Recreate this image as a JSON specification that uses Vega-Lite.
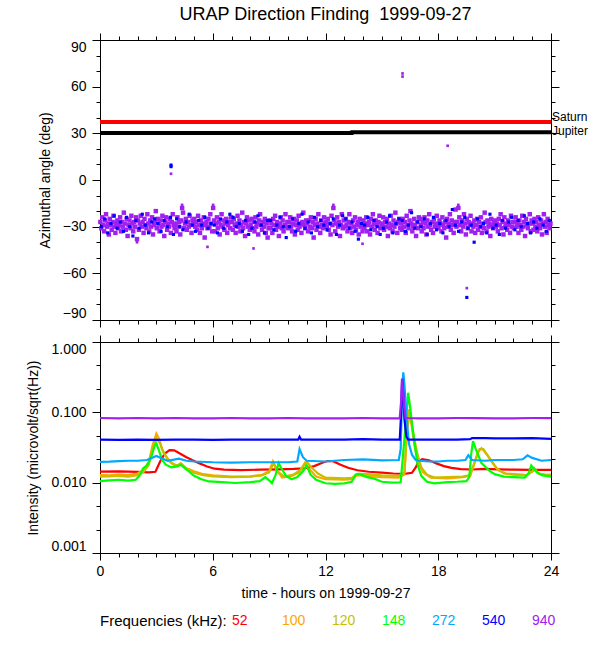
{
  "$schema": "https://vega.github.io/schema/vega-lite/v6.json",
  "title": {"text": "URAP Direction Finding \u00a01999-09-27", "fontSize": 18, "fontWeight": "normal", "color": "black", "anchor": "middle", "frame": "group", "offset": 8},
  "padding": {"left": 26, "top": 6, "right": 2, "bottom": 5},
  "spacing": 6,
  "datasets": {
    "p940": [
      {"t":0.02,"a":-27},{"t":0.07,"a":-31},{"t":0.12,"a":-24},{"t":0.17,"a":-29},{"t":0.22,"a":-33},{"t":0.27,"a":-26},{"t":0.32,"a":-22},{"t":0.37,"a":-30},{"t":0.42,"a":-28},{"t":0.47,"a":-35},{"t":0.52,"a":-25},{"t":0.57,"a":-29},{"t":0.62,"a":-32},{"t":0.67,"a":-27},{"t":0.72,"a":-23},{"t":0.77,"a":-30},{"t":0.82,"a":-34},{"t":0.87,"a":-28},{"t":0.92,"a":-26},{"t":0.97,"a":-31},
      {"t":1.02,"a":-29},{"t":1.07,"a":-24},{"t":1.12,"a":-33},{"t":1.17,"a":-27},{"t":1.22,"a":-30},{"t":1.27,"a":-21},{"t":1.32,"a":-28},{"t":1.37,"a":-32},{"t":1.42,"a":-25},{"t":1.47,"a":-36},{"t":1.52,"a":-29},{"t":1.57,"a":-26},{"t":1.62,"a":-31},{"t":1.67,"a":-23},{"t":1.72,"a":-28},{"t":1.77,"a":-33},{"t":1.82,"a":-27},{"t":1.87,"a":-30},{"t":1.92,"a":-24},{"t":1.97,"a":-38},
      {"t":2.02,"a":-26},{"t":2.07,"a":-32},{"t":2.12,"a":-28},{"t":2.17,"a":-23},{"t":2.22,"a":-30},{"t":2.27,"a":-27},{"t":2.32,"a":-34},{"t":2.37,"a":-25},{"t":2.42,"a":-29},{"t":2.47,"a":-31},{"t":2.52,"a":-22},{"t":2.57,"a":-28},{"t":2.62,"a":-33},{"t":2.67,"a":-26},{"t":2.72,"a":-30},{"t":2.77,"a":-24},{"t":2.82,"a":-35},{"t":2.87,"a":-29},{"t":2.92,"a":-27},{"t":2.97,"a":-20},
      {"t":3.02,"a":-31},{"t":3.07,"a":-25},{"t":3.12,"a":-28},{"t":3.17,"a":-33},{"t":3.22,"a":-26},{"t":3.27,"a":-30},{"t":3.32,"a":-23},{"t":3.37,"a":-29},{"t":3.42,"a":-36},{"t":3.47,"a":-27},{"t":3.52,"a":-24},{"t":3.57,"a":-32},{"t":3.62,"a":-28},{"t":3.67,"a":-30},{"t":3.72,"a":-25},{"t":3.77,"a":-34},{"t":3.82,"a":-27},{"t":3.87,"a":-22},{"t":3.92,"a":-29},{"t":3.97,"a":-31},
      {"t":4.02,"a":-28},{"t":4.07,"a":-33},{"t":4.12,"a":-24},{"t":4.17,"a":-30},{"t":4.22,"a":-27},{"t":4.27,"a":-35},{"t":4.32,"a":-26},{"t":4.37,"a":-18},{"t":4.42,"a":-21},{"t":4.47,"a":-31},{"t":4.52,"a":-28},{"t":4.57,"a":-25},{"t":4.62,"a":-32},{"t":4.67,"a":-27},{"t":4.72,"a":-30},{"t":4.77,"a":-23},{"t":4.82,"a":-29},{"t":4.87,"a":-34},{"t":4.92,"a":-26},{"t":4.97,"a":-28},
      {"t":5.02,"a":-25},{"t":5.07,"a":-30},{"t":5.12,"a":-27},{"t":5.17,"a":-32},{"t":5.22,"a":-23},{"t":5.27,"a":-29},{"t":5.32,"a":-34},{"t":5.37,"a":-26},{"t":5.42,"a":-31},{"t":5.47,"a":-28},{"t":5.52,"a":-24},{"t":5.57,"a":-37},{"t":5.62,"a":-29},{"t":5.67,"a":-27},{"t":5.72,"a":-31},{"t":5.77,"a":-25},{"t":5.82,"a":-30},{"t":5.87,"a":-22},{"t":5.92,"a":-28},{"t":5.97,"a":-33},
      {"t":6.02,"a":-18},{"t":6.07,"a":-26},{"t":6.12,"a":-33},{"t":6.17,"a":-28},{"t":6.22,"a":-24},{"t":6.27,"a":-31},{"t":6.32,"a":-27},{"t":6.37,"a":-35},{"t":6.42,"a":-29},{"t":6.47,"a":-22},{"t":6.52,"a":-30},{"t":6.57,"a":-26},{"t":6.62,"a":-32},{"t":6.67,"a":-28},{"t":6.72,"a":-25},{"t":6.77,"a":-34},{"t":6.82,"a":-29},{"t":6.87,"a":-27},{"t":6.92,"a":-31},{"t":6.97,"a":-24},
      {"t":7.02,"a":-27},{"t":7.07,"a":-32},{"t":7.12,"a":-25},{"t":7.17,"a":-29},{"t":7.22,"a":-34},{"t":7.27,"a":-28},{"t":7.32,"a":-23},{"t":7.37,"a":-30},{"t":7.42,"a":-26},{"t":7.47,"a":-33},{"t":7.52,"a":-29},{"t":7.57,"a":-21},{"t":7.62,"a":-31},{"t":7.67,"a":-27},{"t":7.72,"a":-36},{"t":7.77,"a":-28},{"t":7.82,"a":-24},{"t":7.87,"a":-30},{"t":7.92,"a":-26},{"t":7.97,"a":-32},
      {"t":8.02,"a":-29},{"t":8.07,"a":-25},{"t":8.12,"a":-31},{"t":8.17,"a":-27},{"t":8.22,"a":-33},{"t":8.27,"a":-24},{"t":8.32,"a":-30},{"t":8.37,"a":-28},{"t":8.42,"a":-35},{"t":8.47,"a":-26},{"t":8.52,"a":-22},{"t":8.57,"a":-29},{"t":8.62,"a":-32},{"t":8.67,"a":-27},{"t":8.72,"a":-30},{"t":8.77,"a":-25},{"t":8.82,"a":-34},{"t":8.87,"a":-28},{"t":8.92,"a":-37},{"t":8.97,"a":-31},
      {"t":9.02,"a":-26},{"t":9.07,"a":-31},{"t":9.12,"a":-28},{"t":9.17,"a":-34},{"t":9.22,"a":-25},{"t":9.27,"a":-29},{"t":9.32,"a":-23},{"t":9.37,"a":-32},{"t":9.42,"a":-27},{"t":9.47,"a":-30},{"t":9.52,"a":-36},{"t":9.57,"a":-28},{"t":9.62,"a":-24},{"t":9.67,"a":-31},{"t":9.72,"a":-26},{"t":9.77,"a":-33},{"t":9.82,"a":-29},{"t":9.87,"a":-22},{"t":9.92,"a":-30},{"t":9.97,"a":-27},
      {"t":10.02,"a":-31},{"t":10.07,"a":-27},{"t":10.12,"a":-24},{"t":10.17,"a":-30},{"t":10.22,"a":-33},{"t":10.27,"a":-28},{"t":10.32,"a":-25},{"t":10.37,"a":-35},{"t":10.42,"a":-29},{"t":10.47,"a":-26},{"t":10.52,"a":-32},{"t":10.57,"a":-23},{"t":10.62,"a":-30},{"t":10.67,"a":-28},{"t":10.72,"a":-34},{"t":10.77,"a":-27},{"t":10.82,"a":-21},{"t":10.87,"a":-29},{"t":10.92,"a":-31},{"t":10.97,"a":-26},
      {"t":11.02,"a":-28},{"t":11.07,"a":-33},{"t":11.12,"a":-26},{"t":11.17,"a":-30},{"t":11.22,"a":-24},{"t":11.27,"a":-31},{"t":11.32,"a":-27},{"t":11.37,"a":-37},{"t":11.42,"a":-29},{"t":11.47,"a":-25},{"t":11.52,"a":-32},{"t":11.57,"a":-28},{"t":11.62,"a":-22},{"t":11.67,"a":-30},{"t":11.72,"a":-34},{"t":11.77,"a":-26},{"t":11.82,"a":-29},{"t":11.87,"a":-31},{"t":11.92,"a":-24},{"t":11.97,"a":-28},
      {"t":12.02,"a":-27},{"t":12.07,"a":-30},{"t":12.12,"a":-25},{"t":12.17,"a":-32},{"t":12.22,"a":-28},{"t":12.27,"a":-35},{"t":12.32,"a":-23},{"t":12.37,"a":-29},{"t":12.42,"a":-18},{"t":12.47,"a":-26},{"t":12.52,"a":-33},{"t":12.57,"a":-28},{"t":12.62,"a":-24},{"t":12.67,"a":-30},{"t":12.72,"a":-27},{"t":12.77,"a":-36},{"t":12.82,"a":-29},{"t":12.87,"a":-22},{"t":12.92,"a":-31},{"t":12.97,"a":-26},
      {"t":13.02,"a":-30},{"t":13.07,"a":-25},{"t":13.12,"a":-29},{"t":13.17,"a":-33},{"t":13.22,"a":-27},{"t":13.27,"a":-22},{"t":13.32,"a":-31},{"t":13.37,"a":-28},{"t":13.42,"a":-34},{"t":13.47,"a":-26},{"t":13.52,"a":-30},{"t":13.57,"a":-24},{"t":13.62,"a":-32},{"t":13.67,"a":-29},{"t":13.72,"a":-27},{"t":13.77,"a":-35},{"t":13.82,"a":-25},{"t":13.87,"a":-30},{"t":13.92,"a":-28},{"t":13.97,"a":-33},
      {"t":14.02,"a":-26},{"t":14.07,"a":-31},{"t":14.12,"a":-28},{"t":14.17,"a":-24},{"t":14.22,"a":-33},{"t":14.27,"a":-29},{"t":14.32,"a":-27},{"t":14.37,"a":-35},{"t":14.42,"a":-25},{"t":14.47,"a":-30},{"t":14.52,"a":-22},{"t":14.57,"a":-28},{"t":14.62,"a":-32},{"t":14.67,"a":-26},{"t":14.72,"a":-29},{"t":14.77,"a":-34},{"t":14.82,"a":-27},{"t":14.87,"a":-23},{"t":14.92,"a":-31},{"t":14.97,"a":-28},
      {"t":15.02,"a":-29},{"t":15.07,"a":-24},{"t":15.12,"a":-32},{"t":15.17,"a":-27},{"t":15.22,"a":-30},{"t":15.27,"a":-25},{"t":15.32,"a":-36},{"t":15.37,"a":-28},{"t":15.42,"a":-31},{"t":15.47,"a":-23},{"t":15.52,"a":-29},{"t":15.57,"a":-33},{"t":15.62,"a":-26},{"t":15.67,"a":-30},{"t":15.72,"a":-21},{"t":15.77,"a":-28},{"t":15.82,"a":-34},{"t":15.87,"a":-27},{"t":15.92,"a":-25},{"t":15.97,"a":-31},
      {"t":16.02,"a":-28},{"t":16.07,"a":-32},{"t":16.12,"a":-25},{"t":16.17,"a":-30},{"t":16.22,"a":-27},{"t":16.27,"a":-34},{"t":16.32,"a":-23},{"t":16.37,"a":-29},{"t":16.42,"a":-31},{"t":16.47,"a":-26},{"t":16.52,"a":-20},{"t":16.57,"a":-28},{"t":16.62,"a":-33},{"t":16.67,"a":-30},{"t":16.72,"a":-25},{"t":16.77,"a":-29},{"t":16.82,"a":-36},{"t":16.87,"a":-27},{"t":16.92,"a":-31},{"t":16.97,"a":-24},
      {"t":17.02,"a":-25},{"t":17.07,"a":-29},{"t":17.12,"a":-33},{"t":17.17,"a":-27},{"t":17.22,"a":-31},{"t":17.27,"a":-24},{"t":17.32,"a":-28},{"t":17.37,"a":-35},{"t":17.42,"a":-26},{"t":17.47,"a":-30},{"t":17.52,"a":-22},{"t":17.57,"a":-29},{"t":17.62,"a":-32},{"t":17.67,"a":-27},{"t":17.72,"a":-34},{"t":17.77,"a":-25},{"t":17.82,"a":-30},{"t":17.87,"a":-28},{"t":17.92,"a":-23},{"t":17.97,"a":-31},
      {"t":18.02,"a":-30},{"t":18.07,"a":-26},{"t":18.12,"a":-28},{"t":18.17,"a":-33},{"t":18.22,"a":-24},{"t":18.27,"a":-29},{"t":18.32,"a":-31},{"t":18.37,"a":-27},{"t":18.42,"a":-37},{"t":18.47,"a":-25},{"t":18.52,"a":-30},{"t":18.57,"a":-28},{"t":18.62,"a":-22},{"t":18.67,"a":-32},{"t":18.72,"a":-26},{"t":18.77,"a":-29},{"t":18.82,"a":-34},{"t":18.87,"a":-27},{"t":18.92,"a":-19},{"t":18.97,"a":-30},
      {"t":19.02,"a":-27},{"t":19.07,"a":-18},{"t":19.12,"a":-24},{"t":19.17,"a":-29},{"t":19.22,"a":-33},{"t":19.27,"a":-26},{"t":19.32,"a":-30},{"t":19.37,"a":-22},{"t":19.42,"a":-28},{"t":19.47,"a":-35},{"t":19.52,"a":-25},{"t":19.57,"a":-31},{"t":19.62,"a":-27},{"t":19.67,"a":-29},{"t":19.72,"a":-23},{"t":19.77,"a":-33},{"t":19.82,"a":-28},{"t":19.87,"a":-30},{"t":19.92,"a":-26},{"t":19.97,"a":-34},
      {"t":20.02,"a":-29},{"t":20.07,"a":-25},{"t":20.12,"a":-32},{"t":20.17,"a":-27},{"t":20.22,"a":-30},{"t":20.27,"a":-24},{"t":20.32,"a":-34},{"t":20.37,"a":-28},{"t":20.42,"a":-31},{"t":20.47,"a":-21},{"t":20.52,"a":-27},{"t":20.57,"a":-33},{"t":20.62,"a":-26},{"t":20.67,"a":-30},{"t":20.72,"a":-28},{"t":20.77,"a":-36},{"t":20.82,"a":-25},{"t":20.87,"a":-29},{"t":20.92,"a":-31},{"t":20.97,"a":-27},
      {"t":21.02,"a":-26},{"t":21.07,"a":-30},{"t":21.12,"a":-28},{"t":21.17,"a":-33},{"t":21.22,"a":-25},{"t":21.27,"a":-29},{"t":21.32,"a":-22},{"t":21.37,"a":-31},{"t":21.42,"a":-27},{"t":21.47,"a":-35},{"t":21.52,"a":-24},{"t":21.57,"a":-30},{"t":21.62,"a":-28},{"t":21.67,"a":-32},{"t":21.72,"a":-26},{"t":21.77,"a":-29},{"t":21.82,"a":-34},{"t":21.87,"a":-23},{"t":21.92,"a":-30},{"t":21.97,"a":-27},
      {"t":22.02,"a":-31},{"t":22.07,"a":-27},{"t":22.12,"a":-24},{"t":22.17,"a":-30},{"t":22.22,"a":-28},{"t":22.27,"a":-34},{"t":22.32,"a":-26},{"t":22.37,"a":-29},{"t":22.42,"a":-32},{"t":22.47,"a":-23},{"t":22.52,"a":-30},{"t":22.57,"a":-27},{"t":22.62,"a":-36},{"t":22.67,"a":-25},{"t":22.72,"a":-29},{"t":22.77,"a":-31},{"t":22.82,"a":-28},{"t":22.87,"a":-22},{"t":22.92,"a":-33},{"t":22.97,"a":-26},
      {"t":23.02,"a":-28},{"t":23.07,"a":-32},{"t":23.12,"a":-25},{"t":23.17,"a":-30},{"t":23.22,"a":-27},{"t":23.27,"a":-33},{"t":23.32,"a":-24},{"t":23.37,"a":-29},{"t":23.42,"a":-31},{"t":23.47,"a":-26},{"t":23.52,"a":-35},{"t":23.57,"a":-28},{"t":23.62,"a":-22},{"t":23.67,"a":-30},{"t":23.72,"a":-27},{"t":23.77,"a":-34},{"t":23.82,"a":-25},{"t":23.87,"a":-29},{"t":23.92,"a":-31},{"t":23.97,"a":-28}
    ],
    "p940x": [
      {"t":3.78,"a":4},{"t":16.1,"a":68.5},{"t":16.1,"a":66.5},{"t":18.5,"a":22},{"t":19.52,"a":-69.5},
      {"t":4.37,"a":-16},{"t":6.02,"a":-16},{"t":12.42,"a":-16},{"t":19.07,"a":-16},{"t":5.72,"a":-43},{"t":8.17,"a":-44},{"t":13.97,"a":-41},{"t":1.97,"a":-40}
    ],
    "p540": [
      {"t":0.08,"a":-30},{"t":0.25,"a":-25},{"t":0.41,"a":-34},{"t":0.58,"a":-28},{"t":0.75,"a":-23},{"t":0.91,"a":-31},
      {"t":1.08,"a":-27},{"t":1.25,"a":-33},{"t":1.41,"a":-24},{"t":1.58,"a":-30},{"t":1.75,"a":-36},{"t":1.91,"a":-26},
      {"t":2.08,"a":-31},{"t":2.25,"a":-22},{"t":2.41,"a":-29},{"t":2.58,"a":-34},{"t":2.75,"a":-27},{"t":2.91,"a":-25},
      {"t":3.08,"a":-28},{"t":3.25,"a":-33},{"t":3.41,"a":-26},{"t":3.58,"a":-30},{"t":3.75,"a":-24},{"t":3.91,"a":-35},
      {"t":4.08,"a":-25},{"t":4.25,"a":-30},{"t":4.41,"a":-32},{"t":4.58,"a":-27},{"t":4.75,"a":-22},{"t":4.91,"a":-29},
      {"t":5.08,"a":-33},{"t":5.25,"a":-26},{"t":5.41,"a":-29},{"t":5.58,"a":-24},{"t":5.75,"a":-31},{"t":5.91,"a":-28},
      {"t":6.08,"a":-29},{"t":6.25,"a":-34},{"t":6.41,"a":-25},{"t":6.58,"a":-31},{"t":6.75,"a":-27},{"t":6.91,"a":-22},
      {"t":7.08,"a":-24},{"t":7.25,"a":-30},{"t":7.41,"a":-28},{"t":7.58,"a":-33},{"t":7.75,"a":-26},{"t":7.91,"a":-35},
      {"t":8.08,"a":-31},{"t":8.25,"a":-27},{"t":8.41,"a":-23},{"t":8.58,"a":-29},{"t":8.75,"a":-34},{"t":8.91,"a":-26},
      {"t":9.08,"a":-26},{"t":9.25,"a":-32},{"t":9.41,"a":-29},{"t":9.58,"a":-24},{"t":9.75,"a":-30},{"t":9.91,"a":-37},
      {"t":10.08,"a":-30},{"t":10.25,"a":-25},{"t":10.41,"a":-33},{"t":10.58,"a":-28},{"t":10.75,"a":-22},{"t":10.91,"a":-31},
      {"t":11.08,"a":-27},{"t":11.25,"a":-34},{"t":11.41,"a":-24},{"t":11.58,"a":-30},{"t":11.75,"a":-26},{"t":11.91,"a":-29},
      {"t":12.08,"a":-32},{"t":12.25,"a":-28},{"t":12.41,"a":-25},{"t":12.58,"a":-35},{"t":12.75,"a":-29},{"t":12.91,"a":-23},
      {"t":13.08,"a":-25},{"t":13.25,"a":-31},{"t":13.41,"a":-27},{"t":13.58,"a":-33},{"t":13.75,"a":-38},{"t":13.91,"a":-28},
      {"t":14.08,"a":-29},{"t":14.25,"a":-24},{"t":14.41,"a":-32},{"t":14.58,"a":-26},{"t":14.75,"a":-30},{"t":14.91,"a":-35},
      {"t":15.08,"a":-31},{"t":15.25,"a":-27},{"t":15.41,"a":-23},{"t":15.58,"a":-34},{"t":15.75,"a":-28},{"t":15.91,"a":-25},
      {"t":16.08,"a":-26},{"t":16.25,"a":-33},{"t":16.41,"a":-29},{"t":16.58,"a":-21},{"t":16.75,"a":-31},{"t":16.91,"a":-27},
      {"t":17.08,"a":-30},{"t":17.25,"a":-25},{"t":17.41,"a":-35},{"t":17.58,"a":-28},{"t":17.75,"a":-24},{"t":17.91,"a":-32},
      {"t":18.08,"a":-28},{"t":18.25,"a":-34},{"t":18.41,"a":-26},{"t":18.58,"a":-30},{"t":18.75,"a":-19},{"t":18.91,"a":-29},
      {"t":19.08,"a":-33},{"t":19.25,"a":-27},{"t":19.41,"a":-24},{"t":19.58,"a":-31},{"t":19.75,"a":-29},{"t":19.91,"a":-40},
      {"t":20.08,"a":-25},{"t":20.25,"a":-30},{"t":20.41,"a":-28},{"t":20.58,"a":-34},{"t":20.75,"a":-22},{"t":20.91,"a":-31},
      {"t":21.08,"a":-29},{"t":21.25,"a":-35},{"t":21.41,"a":-26},{"t":21.58,"a":-31},{"t":21.75,"a":-27},{"t":21.91,"a":-24},
      {"t":22.08,"a":-32},{"t":22.25,"a":-26},{"t":22.41,"a":-30},{"t":22.58,"a":-23},{"t":22.75,"a":-28},{"t":22.91,"a":-34},
      {"t":23.08,"a":-27},{"t":23.25,"a":-31},{"t":23.41,"a":-25},{"t":23.58,"a":-29},{"t":23.75,"a":-33},{"t":23.91,"a":-26},
      {"t":3.78,"a":9.6},{"t":3.78,"a":8.6},{"t":19.52,"a":-75.5}
    ],
    "planets": [
      {"b":"Saturn","t":0,"a":37.3},{"b":"Saturn","t":24,"a":37.3},
      {"b":"Jupiter","t":0,"a":30.2},{"b":"Jupiter","t":13.4,"a":30.2},{"b":"Jupiter","t":13.41,"a":30.7},{"b":"Jupiter","t":24,"a":30.7}
    ],
    "lines": [
      {"f":"52","t":0,"v":0.0144},{"f":"52","t":1,"v":0.0145},{"f":"52","t":2,"v":0.0142},{"f":"52","t":2.6,"v":0.014},{"f":"52","t":2.95,"v":0.0143},{"f":"52","t":3.2,"v":0.02},{"f":"52","t":3.45,"v":0.026},{"f":"52","t":3.7,"v":0.029},{"f":"52","t":3.95,"v":0.0288},{"f":"52","t":4.25,"v":0.026},{"f":"52","t":4.6,"v":0.023},{"f":"52","t":4.9,"v":0.021},{"f":"52","t":5.3,"v":0.0188},{"f":"52","t":5.7,"v":0.017},{"f":"52","t":6.1,"v":0.0158},{"f":"52","t":6.6,"v":0.0153},{"f":"52","t":7.5,"v":0.0151},{"f":"52","t":8.5,"v":0.0153},{"f":"52","t":9.5,"v":0.0155},{"f":"52","t":10.3,"v":0.0157},{"f":"52","t":10.9,"v":0.016},{"f":"52","t":11.4,"v":0.0172},{"f":"52","t":11.8,"v":0.019},{"f":"52","t":12.1,"v":0.0203},{"f":"52","t":12.4,"v":0.0202},{"f":"52","t":12.8,"v":0.018},{"f":"52","t":13.2,"v":0.0163},{"f":"52","t":13.7,"v":0.015},{"f":"52","t":14.3,"v":0.0143},{"f":"52","t":15,"v":0.0139},{"f":"52","t":15.6,"v":0.0135},{"f":"52","t":16.2,"v":0.0133},{"f":"52","t":16.6,"v":0.0138},{"f":"52","t":16.8,"v":0.0165},{"f":"52","t":16.95,"v":0.02},{"f":"52","t":17.15,"v":0.0216},{"f":"52","t":17.5,"v":0.0208},{"f":"52","t":17.9,"v":0.0188},{"f":"52","t":18.3,"v":0.0172},{"f":"52","t":18.7,"v":0.0162},{"f":"52","t":19.2,"v":0.0156},{"f":"52","t":19.8,"v":0.0154},{"f":"52","t":20.5,"v":0.0157},{"f":"52","t":21.2,"v":0.0155},{"f":"52","t":22,"v":0.0153},{"f":"52","t":23,"v":0.0152},{"f":"52","t":24,"v":0.0152},
      {"f":"100","t":0,"v":0.0128},{"f":"100","t":0.5,"v":0.0127},{"f":"100","t":1,"v":0.013},{"f":"100","t":1.5,"v":0.0128},{"f":"100","t":2,"v":0.0135},{"f":"100","t":2.3,"v":0.015},{"f":"100","t":2.6,"v":0.02},{"f":"100","t":2.8,"v":0.034},{"f":"100","t":3.0,"v":0.05},{"f":"100","t":3.15,"v":0.042},{"f":"100","t":3.3,"v":0.03},{"f":"100","t":3.5,"v":0.024},{"f":"100","t":3.8,"v":0.019},{"f":"100","t":4.1,"v":0.0175},{"f":"100","t":4.3,"v":0.019},{"f":"100","t":4.6,"v":0.016},{"f":"100","t":5,"v":0.0145},{"f":"100","t":5.5,"v":0.0132},{"f":"100","t":6,"v":0.0127},{"f":"100","t":7,"v":0.0122},{"f":"100","t":8,"v":0.0123},{"f":"100","t":8.6,"v":0.0128},{"f":"100","t":9.0,"v":0.0145},{"f":"100","t":9.2,"v":0.02},{"f":"100","t":9.4,"v":0.015},{"f":"100","t":9.7,"v":0.0118},{"f":"100","t":10.2,"v":0.0125},{"f":"100","t":10.6,"v":0.014},{"f":"100","t":10.9,"v":0.019},{"f":"100","t":11.1,"v":0.016},{"f":"100","t":11.5,"v":0.0122},{"f":"100","t":12,"v":0.0112},{"f":"100","t":13,"v":0.011},{"f":"100","t":13.4,"v":0.0112},{"f":"100","t":13.7,"v":0.0128},{"f":"100","t":14.2,"v":0.0125},{"f":"100","t":15,"v":0.012},{"f":"100","t":15.9,"v":0.0118},{"f":"100","t":16.2,"v":0.013},{"f":"100","t":16.35,"v":0.06},{"f":"100","t":16.5,"v":0.095},{"f":"100","t":16.6,"v":0.06},{"f":"100","t":16.75,"v":0.032},{"f":"100","t":16.95,"v":0.019},{"f":"100","t":17.2,"v":0.014},{"f":"100","t":17.6,"v":0.0118},{"f":"100","t":18.5,"v":0.0115},{"f":"100","t":19.3,"v":0.012},{"f":"100","t":19.7,"v":0.0125},{"f":"100","t":19.9,"v":0.018},{"f":"100","t":20.1,"v":0.027},{"f":"100","t":20.3,"v":0.031},{"f":"100","t":20.5,"v":0.027},{"f":"100","t":20.8,"v":0.021},{"f":"100","t":21.1,"v":0.016},{"f":"100","t":21.5,"v":0.0135},{"f":"100","t":22,"v":0.013},{"f":"100","t":22.7,"v":0.0128},{"f":"100","t":23.0,"v":0.0145},{"f":"100","t":23.1,"v":0.016},{"f":"100","t":23.3,"v":0.0135},{"f":"100","t":23.7,"v":0.013},{"f":"100","t":24,"v":0.0128},
      {"f":"120","t":0,"v":0.0122},{"f":"120","t":0.5,"v":0.0123},{"f":"120","t":1,"v":0.0125},{"f":"120","t":1.5,"v":0.0122},{"f":"120","t":2,"v":0.0128},{"f":"120","t":2.3,"v":0.014},{"f":"120","t":2.6,"v":0.018},{"f":"120","t":2.8,"v":0.03},{"f":"120","t":3.0,"v":0.043},{"f":"120","t":3.2,"v":0.036},{"f":"120","t":3.4,"v":0.026},{"f":"120","t":3.7,"v":0.02},{"f":"120","t":4.0,"v":0.0175},{"f":"120","t":4.3,"v":0.018},{"f":"120","t":4.6,"v":0.0155},{"f":"120","t":5,"v":0.0138},{"f":"120","t":5.5,"v":0.0128},{"f":"120","t":6,"v":0.0123},{"f":"120","t":7,"v":0.012},{"f":"120","t":8,"v":0.0122},{"f":"120","t":8.6,"v":0.0127},{"f":"120","t":9.0,"v":0.014},{"f":"120","t":9.25,"v":0.019},{"f":"120","t":9.45,"v":0.0145},{"f":"120","t":9.8,"v":0.0122},{"f":"120","t":10.3,"v":0.013},{"f":"120","t":10.7,"v":0.0155},{"f":"120","t":11.0,"v":0.02},{"f":"120","t":11.2,"v":0.017},{"f":"120","t":11.6,"v":0.0135},{"f":"120","t":12,"v":0.0118},{"f":"120","t":13,"v":0.0115},{"f":"120","t":13.4,"v":0.0117},{"f":"120","t":13.7,"v":0.0133},{"f":"120","t":14.2,"v":0.0132},{"f":"120","t":15,"v":0.0127},{"f":"120","t":15.9,"v":0.0125},{"f":"120","t":16.2,"v":0.014},{"f":"120","t":16.32,"v":0.05},{"f":"120","t":16.45,"v":0.11},{"f":"120","t":16.55,"v":0.08},{"f":"120","t":16.7,"v":0.045},{"f":"120","t":16.9,"v":0.025},{"f":"120","t":17.1,"v":0.0165},{"f":"120","t":17.4,"v":0.013},{"f":"120","t":17.8,"v":0.0118},{"f":"120","t":18.5,"v":0.012},{"f":"120","t":19.3,"v":0.0122},{"f":"120","t":19.7,"v":0.0128},{"f":"120","t":19.95,"v":0.02},{"f":"120","t":20.2,"v":0.03},{"f":"120","t":20.4,"v":0.03},{"f":"120","t":20.6,"v":0.025},{"f":"120","t":20.9,"v":0.019},{"f":"120","t":21.2,"v":0.015},{"f":"120","t":21.6,"v":0.0135},{"f":"120","t":22,"v":0.0132},{"f":"120","t":22.7,"v":0.0128},{"f":"120","t":23.0,"v":0.0142},{"f":"120","t":23.15,"v":0.0155},{"f":"120","t":23.35,"v":0.0135},{"f":"120","t":23.7,"v":0.0128},{"f":"120","t":24,"v":0.013},
      {"f":"148","t":0,"v":0.0105},{"f":"148","t":0.5,"v":0.0108},{"f":"148","t":1,"v":0.011},{"f":"148","t":1.5,"v":0.0107},{"f":"148","t":1.9,"v":0.011},{"f":"148","t":2.1,"v":0.0125},{"f":"148","t":2.3,"v":0.016},{"f":"148","t":2.5,"v":0.0175},{"f":"148","t":2.7,"v":0.022},{"f":"148","t":2.9,"v":0.033},{"f":"148","t":3.0,"v":0.036},{"f":"148","t":3.15,"v":0.028},{"f":"148","t":3.3,"v":0.021},{"f":"148","t":3.5,"v":0.018},{"f":"148","t":3.8,"v":0.0165},{"f":"148","t":4.1,"v":0.017},{"f":"148","t":4.3,"v":0.018},{"f":"148","t":4.6,"v":0.0155},{"f":"148","t":5.0,"v":0.0125},{"f":"148","t":5.4,"v":0.0112},{"f":"148","t":5.8,"v":0.0104},{"f":"148","t":6.5,"v":0.0102},{"f":"148","t":7.2,"v":0.0099},{"f":"148","t":8.0,"v":0.0102},{"f":"148","t":8.5,"v":0.0105},{"f":"148","t":8.8,"v":0.012},{"f":"148","t":9.0,"v":0.0108},{"f":"148","t":9.15,"v":0.0098},{"f":"148","t":9.35,"v":0.013},{"f":"148","t":9.5,"v":0.019},{"f":"148","t":9.65,"v":0.016},{"f":"148","t":9.9,"v":0.0125},{"f":"148","t":10.2,"v":0.0112},{"f":"148","t":10.5,"v":0.012},{"f":"148","t":10.8,"v":0.0145},{"f":"148","t":11.0,"v":0.0175},{"f":"148","t":11.2,"v":0.013},{"f":"148","t":11.5,"v":0.011},{"f":"148","t":12,"v":0.0098},{"f":"148","t":12.5,"v":0.0096},{"f":"148","t":13.0,"v":0.0098},{"f":"148","t":13.4,"v":0.0103},{"f":"148","t":13.6,"v":0.013},{"f":"148","t":13.8,"v":0.0133},{"f":"148","t":14.2,"v":0.012},{"f":"148","t":14.6,"v":0.0114},{"f":"148","t":15,"v":0.0103},{"f":"148","t":15.5,"v":0.01},{"f":"148","t":16.0,"v":0.0101},{"f":"148","t":16.25,"v":0.06},{"f":"148","t":16.4,"v":0.19},{"f":"148","t":16.5,"v":0.12},{"f":"148","t":16.6,"v":0.07},{"f":"148","t":16.75,"v":0.035},{"f":"148","t":16.9,"v":0.018},{"f":"148","t":17.1,"v":0.0125},{"f":"148","t":17.4,"v":0.0103},{"f":"148","t":17.8,"v":0.0098},{"f":"148","t":18.5,"v":0.0102},{"f":"148","t":19,"v":0.0103},{"f":"148","t":19.5,"v":0.0105},{"f":"148","t":19.65,"v":0.012},{"f":"148","t":19.75,"v":0.025},{"f":"148","t":19.85,"v":0.039},{"f":"148","t":20.0,"v":0.03},{"f":"148","t":20.3,"v":0.019},{"f":"148","t":20.7,"v":0.015},{"f":"148","t":21,"v":0.0132},{"f":"148","t":21.5,"v":0.0122},{"f":"148","t":22,"v":0.012},{"f":"148","t":22.6,"v":0.0118},{"f":"148","t":22.8,"v":0.0135},{"f":"148","t":22.95,"v":0.0175},{"f":"148","t":23.2,"v":0.0145},{"f":"148","t":23.5,"v":0.0128},{"f":"148","t":24,"v":0.0122},
      {"f":"272","t":0,"v":0.0198},{"f":"272","t":0.5,"v":0.0199},{"f":"272","t":1,"v":0.0202},{"f":"272","t":1.5,"v":0.0205},{"f":"272","t":2,"v":0.0205},{"f":"272","t":2.5,"v":0.021},{"f":"272","t":3.0,"v":0.024},{"f":"272","t":3.3,"v":0.022},{"f":"272","t":3.6,"v":0.0205},{"f":"272","t":4.2,"v":0.022},{"f":"272","t":4.6,"v":0.0205},{"f":"272","t":5,"v":0.02},{"f":"272","t":6,"v":0.0195},{"f":"272","t":7,"v":0.0193},{"f":"272","t":8,"v":0.0195},{"f":"272","t":9,"v":0.0195},{"f":"272","t":10,"v":0.0195},{"f":"272","t":10.5,"v":0.02},{"f":"272","t":10.62,"v":0.03},{"f":"272","t":10.8,"v":0.023},{"f":"272","t":11,"v":0.0205},{"f":"272","t":12,"v":0.02},{"f":"272","t":12.5,"v":0.0205},{"f":"272","t":13,"v":0.021},{"f":"272","t":14,"v":0.0215},{"f":"272","t":15,"v":0.0208},{"f":"272","t":15.9,"v":0.021},{"f":"272","t":16.0,"v":0.03},{"f":"272","t":16.08,"v":0.2},{"f":"272","t":16.14,"v":0.37},{"f":"272","t":16.2,"v":0.25},{"f":"272","t":16.28,"v":0.12},{"f":"272","t":16.36,"v":0.06},{"f":"272","t":16.45,"v":0.035},{"f":"272","t":16.6,"v":0.025},{"f":"272","t":16.8,"v":0.021},{"f":"272","t":17,"v":0.0205},{"f":"272","t":17.5,"v":0.02},{"f":"272","t":18,"v":0.02},{"f":"272","t":18.5,"v":0.0205},{"f":"272","t":19,"v":0.0205},{"f":"272","t":19.45,"v":0.021},{"f":"272","t":19.6,"v":0.0245},{"f":"272","t":19.8,"v":0.021},{"f":"272","t":20.5,"v":0.0205},{"f":"272","t":21,"v":0.021},{"f":"272","t":22,"v":0.021},{"f":"272","t":22.5,"v":0.0215},{"f":"272","t":22.75,"v":0.0245},{"f":"272","t":23.0,"v":0.0225},{"f":"272","t":23.5,"v":0.0205},{"f":"272","t":24,"v":0.021},
      {"f":"540","t":0,"v":0.041},{"f":"540","t":1,"v":0.0405},{"f":"540","t":2,"v":0.041},{"f":"540","t":3,"v":0.0405},{"f":"540","t":4,"v":0.041},{"f":"540","t":5,"v":0.041},{"f":"540","t":6,"v":0.0405},{"f":"540","t":7,"v":0.041},{"f":"540","t":8,"v":0.041},{"f":"540","t":9,"v":0.041},{"f":"540","t":10,"v":0.041},{"f":"540","t":10.55,"v":0.041},{"f":"540","t":10.62,"v":0.045},{"f":"540","t":10.7,"v":0.041},{"f":"540","t":11,"v":0.041},{"f":"540","t":12,"v":0.041},{"f":"540","t":13,"v":0.041},{"f":"540","t":14,"v":0.0415},{"f":"540","t":15,"v":0.041},{"f":"540","t":15.95,"v":0.041},{"f":"540","t":16.02,"v":0.09},{"f":"540","t":16.08,"v":0.3},{"f":"540","t":16.14,"v":0.18},{"f":"540","t":16.2,"v":0.08},{"f":"540","t":16.3,"v":0.045},{"f":"540","t":16.4,"v":0.041},{"f":"540","t":17,"v":0.041},{"f":"540","t":18,"v":0.041},{"f":"540","t":19,"v":0.041},{"f":"540","t":19.7,"v":0.0415},{"f":"540","t":19.8,"v":0.043},{"f":"540","t":20.5,"v":0.043},{"f":"540","t":21,"v":0.0425},{"f":"540","t":22,"v":0.0425},{"f":"540","t":23,"v":0.043},{"f":"540","t":24,"v":0.042},
      {"f":"940","t":0,"v":0.083},{"f":"940","t":1,"v":0.082},{"f":"940","t":2,"v":0.083},{"f":"940","t":3,"v":0.082},{"f":"940","t":4,"v":0.083},{"f":"940","t":5,"v":0.082},{"f":"940","t":6,"v":0.082},{"f":"940","t":7,"v":0.083},{"f":"940","t":8,"v":0.082},{"f":"940","t":9,"v":0.082},{"f":"940","t":10,"v":0.083},{"f":"940","t":11,"v":0.082},{"f":"940","t":12,"v":0.082},{"f":"940","t":13,"v":0.082},{"f":"940","t":14,"v":0.083},{"f":"940","t":15,"v":0.082},{"f":"940","t":15.95,"v":0.082},{"f":"940","t":16.02,"v":0.14},{"f":"940","t":16.07,"v":0.3},{"f":"940","t":16.12,"v":0.22},{"f":"940","t":16.18,"v":0.12},{"f":"940","t":16.26,"v":0.083},{"f":"940","t":17,"v":0.082},{"f":"940","t":18,"v":0.082},{"f":"940","t":19,"v":0.083},{"f":"940","t":20,"v":0.083},{"f":"940","t":21,"v":0.082},{"f":"940","t":22,"v":0.082},{"f":"940","t":23,"v":0.083},{"f":"940","t":24,"v":0.083}
    ]
  },
  "vconcat": [
    {
      "width": 451,
      "height": 280,
      "layer": [
        {
          "data": {"name": "p940"},
          "mark": {"type": "square", "size": 20, "color": "#a020f0", "opacity": 1},
          "encoding": {
            "x": {"field": "t", "type": "quantitative", "scale": {"domain": [0, 24], "nice": false},
              "axis": {"orient": "bottom", "title": null, "labels": false, "values": [0,1,2,3,4,5,6,7,8,9,10,11,12,13,14,15,16,17,18,19,20,21,22,23,24],
                "tickSize": {"condition": {"test": "datum.value % 6 === 0", "value": 7}, "value": 4}}},
            "y": {"field": "a", "type": "quantitative", "scale": {"domain": [-90, 90], "nice": false},
              "axis": {"orient": "left", "title": "Azimuthal angle (deg)", "titlePadding": 10, "labelFlush": true, "labelPadding": 6,
                "values": [-90,-80,-70,-60,-50,-40,-30,-20,-10,0,10,20,30,40,50,60,70,80,90],
                "labelExpr": "datum.value % 30 === 0 ? datum.label : ''",
                "tickSize": {"condition": {"test": "datum.value % 30 === 0", "value": 8}, "value": 4}}}
          }
        },
        {
          "data": {"name": "p940x"},
          "mark": {"type": "square", "size": 7, "color": "#a020f0", "opacity": 1},
          "encoding": {
            "x": {"field": "t", "type": "quantitative", "scale": {"domain": [0, 24], "nice": false}, "axis": null},
            "y": {"field": "a", "type": "quantitative", "scale": {"domain": [-90, 90], "nice": false}, "axis": null}
          }
        },
        {
          "data": {"name": "p540"},
          "mark": {"type": "square", "size": 10, "color": "#0000ff", "opacity": 1},
          "encoding": {
            "x": {"field": "t", "type": "quantitative", "scale": {"domain": [0, 24], "nice": false}, "axis": null},
            "y": {"field": "a", "type": "quantitative", "scale": {"domain": [-90, 90], "nice": false}, "axis": null}
          }
        },
        {
          "data": {"name": "planets"},
          "mark": {"type": "line", "strokeWidth": 4},
          "encoding": {
            "x": {"field": "t", "type": "quantitative", "scale": {"domain": [0, 24], "nice": false},
              "axis": {"orient": "top", "title": null, "labels": false, "values": [0,1,2,3,4,5,6,7,8,9,10,11,12,13,14,15,16,17,18,19,20,21,22,23,24],
                "tickSize": {"condition": {"test": "datum.value % 6 === 0", "value": 7}, "value": 4}}},
            "y": {"field": "a", "type": "quantitative", "scale": {"domain": [-90, 90], "nice": false},
              "axis": {"orient": "right", "title": null, "labels": false,
                "values": [-90,-80,-70,-60,-50,-40,-30,-20,-10,0,10,20,30,40,50,60,70,80,90],
                "tickSize": {"condition": {"test": "datum.value % 30 === 0", "value": 8}, "value": 4}}},
            "stroke": {"field": "b", "type": "nominal", "scale": {"domain": ["Saturn", "Jupiter"], "range": ["#ff0000", "#000000"]}, "legend": null}
          }
        },
        {
          "data": {"name": "planets"},
          "transform": [{"filter": "datum.t == 24 && datum.b == 'Saturn'"}],
          "mark": {"type": "text", "align": "left", "baseline": "middle", "dx": 1, "dy": -5, "fontSize": 12, "color": "black"},
          "encoding": {
            "x": {"field": "t", "type": "quantitative", "scale": {"domain": [0, 24], "nice": false}, "axis": null},
            "y": {"field": "a", "type": "quantitative", "scale": {"domain": [-90, 90], "nice": false}, "axis": null},
            "text": {"field": "b"}
          }
        },
        {
          "data": {"name": "planets"},
          "transform": [{"filter": "datum.t == 24 && datum.b == 'Jupiter'"}],
          "mark": {"type": "text", "align": "left", "baseline": "middle", "dx": 1, "dy": -1, "fontSize": 12, "color": "black"},
          "encoding": {
            "x": {"field": "t", "type": "quantitative", "scale": {"domain": [0, 24], "nice": false}, "axis": null},
            "y": {"field": "a", "type": "quantitative", "scale": {"domain": [-90, 90], "nice": false}, "axis": null},
            "text": {"field": "b"}
          }
        }
      ],
      "resolve": {"axis": {"x": "independent", "y": "independent"}}
    },
    {
      "width": 451,
      "height": 211,
      "data": {"name": "lines"},
      "layer": [
        {
          "transform": [{"filter": {"field": "f", "oneOf": ["52", "100", "120", "148"]}}],
          "mark": {"type": "line", "strokeWidth": 2.2},
          "encoding": {
            "x": {"field": "t", "type": "quantitative", "scale": {"domain": [0, 24], "nice": false},
              "axis": {"orient": "bottom", "title": "time - hours on 1999-09-27", "labelFlush": false, "labelPadding": 4, "titlePadding": 8,
                "values": [0,1,2,3,4,5,6,7,8,9,10,11,12,13,14,15,16,17,18,19,20,21,22,23,24],
                "labelExpr": "datum.value % 6 === 0 ? datum.label : ''",
                "tickSize": {"condition": {"test": "datum.value % 6 === 0", "value": 7}, "value": 4}}},
            "y": {"field": "v", "type": "quantitative", "scale": {"type": "log", "domain": [0.001, 1], "nice": false},
              "axis": {"orient": "left", "title": "Intensity (microvolt/sqrt(Hz))", "titlePadding": 10, "labelFlush": true, "labelPadding": 6,
                "values": [1, 0.4642, 0.2154, 0.1, 0.04642, 0.02154, 0.01, 0.004642, 0.002154, 0.001],
                "labelExpr": "indexof(['1.000','0.100','0.010','0.001'], format(datum.value, '.3f')) >= 0 ? format(datum.value, '.3f') : ''",
                "tickSize": {"condition": {"test": "indexof([1, 0.1, 0.01, 0.001], datum.value) >= 0", "value": 8}, "value": 4}}},
            "color": {"field": "f", "type": "nominal",
              "scale": {"domain": ["52", "100", "120", "148", "272", "540", "940"], "range": ["#ff0000", "#ffa500", "#c8be00", "#00ff00", "#00a8ff", "#0000ff", "#a020f0"]},
              "legend": {"orient": "bottom", "direction": "horizontal", "title": "Frequencies (kHz):", "titleOrient": "left", "titleFontSize": 15, "titleFontWeight": "normal", "titleColor": "black", "titlePadding": -9,
                "labelFontSize": 14, "labelColor": {"expr": "scale('color', datum.value)"}, "symbolSize": 0, "symbolOpacity": 0, "symbolStrokeWidth": 0, "labelOffset": 0, "columnPadding": 12, "gridAlign": "all", "offset": 13}}
          }
        },
        {
          "transform": [{"filter": {"field": "f", "oneOf": ["272", "540", "940"]}}],
          "mark": {"type": "line", "strokeWidth": 2.2},
          "encoding": {
            "x": {"field": "t", "type": "quantitative", "scale": {"domain": [0, 24], "nice": false},
              "axis": {"orient": "top", "title": null, "labels": false, "values": [0,1,2,3,4,5,6,7,8,9,10,11,12,13,14,15,16,17,18,19,20,21,22,23,24],
                "tickSize": {"condition": {"test": "datum.value % 6 === 0", "value": 7}, "value": 4}}},
            "y": {"field": "v", "type": "quantitative", "scale": {"type": "log", "domain": [0.001, 1], "nice": false},
              "axis": {"orient": "right", "title": null, "labels": false,
                "values": [1, 0.4642, 0.2154, 0.1, 0.04642, 0.02154, 0.01, 0.004642, 0.002154, 0.001],
                "tickSize": {"condition": {"test": "indexof([1, 0.1, 0.01, 0.001], datum.value) >= 0", "value": 8}, "value": 4}}},
            "color": {"field": "f", "type": "nominal",
              "scale": {"domain": ["52", "100", "120", "148", "272", "540", "940"], "range": ["#ff0000", "#ffa500", "#c8be00", "#00ff00", "#00a8ff", "#0000ff", "#a020f0"]}}
          }
        }
      ],
      "resolve": {"axis": {"x": "independent", "y": "independent"}}
    }
  ],
  "config": {
    "font": "Liberation Sans",
    "background": "white",
    "view": {"stroke": "black", "strokeWidth": 1},
    "axis": {"grid": false, "labelFontSize": 14, "titleFontSize": 14, "titleFontWeight": "normal", "labelColor": "black", "titleColor": "black", "domainColor": "black", "tickColor": "black", "labelOverlap": false}
  }
}
